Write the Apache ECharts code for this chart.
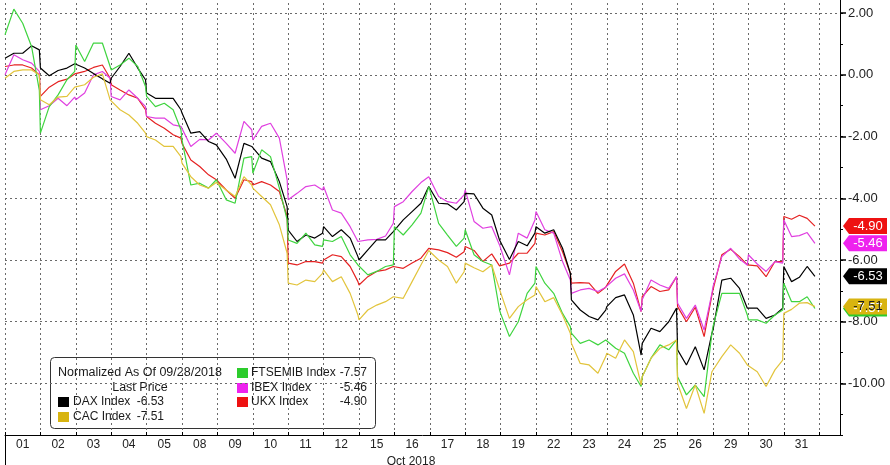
<!DOCTYPE html>
<html>
<head>
<meta charset="utf-8">
<script src="https://cdn.jsdelivr.net/npm/echarts@6/dist/echarts.min.js"></script>
<style>
html,body{margin:0;padding:0;background:#fff;}
#chart{width:890px;height:465px;}
</style>
</head>
<body>
<div id="chart"></div>
<script>
// ---- DATA ----
const days = ['01','02','03','04','05','08','09','10','11','12','15','16','17','18','19','22','23','24','25','26','29','30','31'];
const monthLabel = 'Oct 2018';
const sessionSteps = [0, 0.25, 0.5, 0.75, 0.97];
const lastSessionSteps = [0, 0.22, 0.44, 0.66, 0.88];
const legendTitle = 'Normalized As Of 09/28/2018';
const legendSubtitle = 'Last Price';

const dax = [
 0.54, 0.70, 0.70, 0.94, 0.81,
 0.22, -0.03, 0.14, 0.22, 0.36,
 0.38, 0.22, 0.04, -0.13, -0.27,
 -0.11, 0.27, 0.70, 0.22, -0.16,
 -0.59, -0.76, -0.76, -0.76, -1.13,
 -1.24, -1.89, -1.84, -2.16, -2.27,
 -2.32, -2.73, -3.35, -2.22, -2.32,
 -2.38, -2.70, -2.81, -3.46, -4.27,
 -5.03, -5.40, -5.19, -5.29, -5.13,
 -4.92, -5.24, -5.02, -5.29, -5.89,
 -6.00, -5.67, -5.35, -5.35, -5.08,
 -5.02, -4.70, -4.43, -4.16, -3.62,
 -3.67, -4.16, -4.18, -4.38, -4.11,
 -3.84, -3.86, -4.32, -4.54, -5.35,
 -5.35, -5.98, -5.40, -5.54, -5.13,
 -4.92, -5.13, -5.02, -5.62, -6.43,
 -7.29, -7.62, -7.83, -7.94, -7.62,
 -7.51, -7.22, -7.13, -7.78, -9.08,
 -8.70, -8.21, -8.32, -8.00, -7.56,
 -8.91, -9.40, -8.81, -9.56, -8.37,
 -8.27, -6.65, -6.59, -6.92, -7.56,
 -7.62, -7.56, -7.89, -7.78, -7.56,
 -6.21, -6.70, -6.56, -6.21, -6.53
];
const cac = [
 -0.11, 0.11, 0.16, 0.16, 0.00,
 -0.81, -0.97, -0.72, -0.70, -0.40,
 -0.43, -0.32, -0.08, 0.03, -0.81,
 -0.86, -1.13, -1.30, -1.57, -1.89,
 -2.00, -2.11, -2.32, -2.32, -2.65,
 -2.86, -3.30, -3.57, -3.67, -3.49,
 -3.49, -3.73, -3.94, -3.30, -3.57,
 -3.67, -3.94, -4.21, -4.86, -5.78,
 -6.75, -6.81, -6.65, -6.70, -6.43,
 -6.32, -6.70, -6.54, -7.08, -7.78,
 -7.94, -7.62, -7.46, -7.35, -7.19,
 -7.19, -7.24, -6.70, -6.16, -5.69,
 -5.69, -6.00, -6.21, -6.75, -6.38,
 -6.10, -6.25, -6.38, -6.16, -6.95,
 -6.97, -7.89, -7.51, -7.29, -7.13,
 -6.86, -7.35, -7.22, -7.78, -8.37,
 -8.70, -9.35, -9.40, -9.67, -9.13,
 -9.02, -9.18, -8.59, -8.97, -10.05,
 -9.78, -9.18, -8.86, -8.75, -8.59,
 -10.00, -10.81, -10.05, -10.97, -9.62,
 -9.56, -9.13, -8.75, -9.02, -9.40,
 -9.45, -9.62, -10.10, -9.56, -9.24,
 -7.73, -7.60, -7.40, -7.38, -7.51
];
const ftsemib = [
 1.30, 2.13, 1.67, 0.92, -0.50,
 -1.89, -1.03, -0.65, -0.16, 0.11,
 0.97, 0.43, 1.03, 1.03, 0.27,
 0.16, 0.32, 0.54, 0.27, -0.38,
 -0.70, -1.03, -0.92, -1.13, -1.78,
 -2.11, -3.57, -3.51, -3.67, -3.40,
 -3.40, -4.05, -4.16, -2.70, -2.65,
 -3.19, -2.43, -2.65, -3.67, -4.70,
 -5.35, -5.46, -5.13, -5.51, -5.56,
 -5.35, -5.40, -5.24, -5.83, -6.16,
 -6.21, -6.48, -6.37, -6.21, -6.16,
 -4.92, -5.19, -4.86, -4.48, -3.62,
 -3.73, -4.81, -5.19, -5.56, -5.29,
 -5.02, -5.83, -6.05, -6.16, -7.62,
 -7.73, -8.48, -8.00, -7.08, -6.75,
 -6.21, -6.75, -7.08, -7.73, -8.16,
 -8.37, -8.70, -8.59, -8.75, -8.59,
 -8.59, -8.86, -9.02, -9.67, -10.10,
 -9.78, -9.18, -8.75, -8.91, -8.59,
 -9.78, -10.37, -10.05, -10.43, -8.37,
 -8.16, -7.08, -7.08, -7.08, -7.78,
 -7.94, -7.94, -8.05, -7.78, -7.62,
 -6.75, -7.35, -7.35, -7.19, -7.57
];
const ibex = [
 0.00, 0.65, 0.49, 0.38, 0.11,
 -1.13, -1.00, -0.76, -1.00, -0.72,
 -0.81, -0.59, 0.00, 0.11, -0.11,
 -0.70, -0.81, -0.49, -0.76, -1.03,
 -1.35, -1.40, -1.40, -1.62, -1.67,
 -1.73, -2.32, -2.09, -2.11, -1.89,
 -1.89, -2.22, -2.54, -1.51, -1.78,
 -2.11, -1.67, -1.57, -2.05, -3.40,
 -4.05, -3.84, -3.62, -3.57, -3.73,
 -3.62, -4.38, -4.48, -4.92, -5.40,
 -5.46, -5.35, -5.33, -5.22, -4.81,
 -4.27, -4.11, -3.78, -3.49, -3.30,
 -3.30, -3.94, -4.11, -4.16, -3.89,
 -3.73, -4.75, -4.97, -4.92, -5.51,
 -5.56, -6.48, -5.13, -5.29, -4.70,
 -4.43, -5.02, -5.13, -6.05, -6.65,
 -7.08, -6.97, -6.92, -7.02, -6.88,
 -6.86, -6.59, -6.45, -6.97, -7.67,
 -7.29, -6.65, -6.81, -6.92, -6.54,
 -7.40, -7.89, -7.46, -8.27, -7.08,
 -6.86, -5.89, -5.62, -5.97, -6.16,
 -5.83, -6.13, -6.37, -6.05, -6.10,
 -4.70, -5.24, -5.21, -5.11, -5.46
];
const ukx = [
 0.27, 0.32, 0.32, 0.22, 0.00,
 -0.70, -0.40, -0.22, -0.14, 0.03,
 0.05, 0.11, 0.24, 0.32, -0.11,
 -0.32, -0.49, -0.65, -0.76, -1.13,
 -1.35, -1.57, -1.73, -1.94, -2.05,
 -2.22, -2.76, -2.97, -3.24, -3.40,
 -3.40, -3.73, -4.00, -3.40, -3.46,
 -3.57, -3.46, -3.57, -3.78, -4.59,
 -6.10, -6.16, -6.05, -6.05, -6.10,
 -6.00, -5.83, -5.89, -6.21, -6.70,
 -6.81, -6.54, -6.37, -6.32, -6.21,
 -6.21, -6.27, -6.10, -5.94, -5.62,
 -5.59, -5.67, -5.76, -5.91, -5.73,
 -5.56, -5.69, -6.05, -5.80, -6.19,
 -6.21, -6.10, -5.78, -5.78, -5.46,
 -5.13, -5.19, -5.08, -5.73, -6.43,
 -6.75, -6.73, -6.75, -7.08, -6.88,
 -6.86, -6.37, -6.13, -6.75, -7.67,
 -7.19, -6.86, -7.02, -6.97, -6.54,
 -7.51, -8.00, -7.53, -8.48, -7.13,
 -6.97, -5.83, -5.65, -5.89, -6.16,
 -6.10, -6.19, -6.54, -6.05, -6.05,
 -4.59, -4.68, -4.55, -4.65, -4.90
];

// ---- BUILD ----
const times = [];
days.forEach((d, i) => {
  (i === days.length - 1 ? lastSessionSteps : sessionSteps).forEach(s => times.push(i + s));
});
const xMax = 23.588;
const yMin = -11.67, yMax = 2.49;
const FONT = 'Liberation Sans';

const seriesDefs = [
  { name: 'UKX Index',     values: ukx,     line: '#e52222', box: '#ee1111', text: '#ffffff', legendCol: 1, legendRow: 2 },
  { name: 'IBEX Index',    values: ibex,    line: '#e040e0', box: '#ee22ee', text: '#ffffff', legendCol: 1, legendRow: 1 },
  { name: 'DAX Index',     values: dax,     line: '#000000', box: '#000000', text: '#ffffff', legendCol: 0, legendRow: 0 },
  { name: 'FTSEMIB Index', values: ftsemib, line: '#3fd43f', box: '#2ccc2c', text: '#ffffff', legendCol: 1, legendRow: 0 },
  { name: 'CAC Index',     values: cac,     line: '#e2c43c', box: '#d8b410', text: '#1a1a1a', legendCol: 0, legendRow: 1 }
];

const series = seriesDefs.map(s => {
  const last = s.values[s.values.length - 1];
  return {
    name: s.name,
    type: 'line',
    showSymbol: false,
    symbol: 'none',
    animation: false,
    lineStyle: { color: s.line, width: 1.2 },
    itemStyle: { color: s.line },
    data: times.map((t, i) => [t, s.values[i]]),
    markPoint: {
      silent: true,
      animation: false,
      symbol: 'path://M0,8L6,0L44,0L44,16L6,16Z',
      symbolSize: [44, 16],
      symbolOffset: [25, 0],
      itemStyle: { color: s.box },
      label: {
        show: true, position: 'inside', offset: [3, 0],
        color: s.text, fontSize: 13, fontFamily: FONT,
        formatter: p => p.value.toFixed(2)
      },
      data: [{ coord: [xMax, last], value: last }]
    }
  };
});

// legend graphic
const LF = 12;
const legendEls = [
  { type: 'rect', shape: { x: 50.5, y: 357.5, width: 325, height: 71, r: 4 },
    style: { fill: '#ffffff', stroke: '#333333', lineWidth: 1 } },
  { type: 'text', x: 58, y: 373, style: { text: legendTitle, fontSize: 12.5, fontFamily: FONT, fill: '#1a1a1a', verticalAlign: 'middle' } },
  { type: 'text', x: 140, y: 388, style: { text: legendSubtitle, fontSize: 12.5, fontFamily: FONT, fill: '#1a1a1a', align: 'center', verticalAlign: 'middle' } }
];
const legendCols = [
  { swatchX: 58, textX: 73, valueRight: 164, rowY: [402, 417] },
  { swatchX: 237, textX: 251, valueRight: 367, rowY: [373, 388, 402] }
];
seriesDefs.forEach(s => {
  const c = legendCols[s.legendCol];
  const y = c.rowY[s.legendRow];
  const last = s.values[s.values.length - 1];
  legendEls.push({ type: 'rect', shape: { x: c.swatchX, y: y - 5, width: 11, height: 10 }, style: { fill: s.box } });
  legendEls.push({ type: 'text', x: c.textX, y: y, style: { text: s.name, fontSize: LF, fontFamily: FONT, fill: '#1a1a1a', verticalAlign: 'middle' } });
  legendEls.push({ type: 'text', x: c.valueRight, y: y, style: { text: last.toFixed(2), fontSize: LF, fontFamily: FONT, fill: '#1a1a1a', align: 'right', verticalAlign: 'middle' } });
});

const chart = echarts.init(document.getElementById('chart'), null, { renderer: 'canvas' });
chart.setOption({
  animation: false,
  backgroundColor: '#ffffff',
  grid: { left: 5, right: 50, top: -2, bottom: 30, containLabel: false, outerBoundsMode: 'none' },
  xAxis: {
    type: 'value', min: 0, max: xMax, interval: 1,
    name: monthLabel, nameLocation: 'middle', nameGap: 14,
    nameTextStyle: { fontSize: 12, fontFamily: FONT, color: '#222', padding: [0, 23, 0, 0] },
    axisLine: { show: true, onZero: false, lineStyle: { color: '#000', width: 1 } },
    axisTick: { show: true, inside: true, length: 3, lineStyle: { color: '#000' } },
    splitLine: { show: true, lineStyle: { color: '#6a6a6a', type: [2, 3], width: 1 } },
    axisLabel: {
      show: true, margin: 4, fontSize: 12, fontFamily: FONT, color: '#222',
      align: 'left', padding: [0, 0, 0, 11],
      showMinLabel: true, showMaxLabel: false, hideOverlap: false,
      formatter: v => {
        const i = Math.round(v);
        if (Math.abs(v - i) > 1e-6 || i < 0 || i >= days.length) return '';
        return days[i];
      }
    }
  },
  yAxis: [{
    type: 'value', position: 'right', min: yMin, max: yMax, splitNumber: 7,
    axisLine: { show: true, onZero: false, lineStyle: { color: '#000', width: 1 } },
    axisTick: { show: true, length: 6, lineStyle: { color: '#000', width: 1.5 } },
    splitLine: { show: true, lineStyle: { color: '#6a6a6a', type: [2, 3], width: 1 } },
    axisLabel: { show: true, margin: 8, fontSize: 13, fontFamily: FONT, color: '#222',
      showMinLabel: false, showMaxLabel: false, formatter: v => v.toFixed(2) }
  }, {
    type: 'value', position: 'right', min: yMin, max: yMax, splitNumber: 14,
    axisLine: { show: false, onZero: false },
    axisTick: { show: true, length: 3, lineStyle: { color: '#000' } },
    splitLine: { show: false },
    axisLabel: { show: false }
  }],
  graphic: [
    { type: 'line', z: 100, shape: { x1: 5.5, y1: 435, x2: 5.5, y2: 465 }, style: { stroke: '#000', lineWidth: 1 } },
    { type: 'group', z: 100, children: legendEls }
  ],
  series: series
});
</script>
</body>
</html>
